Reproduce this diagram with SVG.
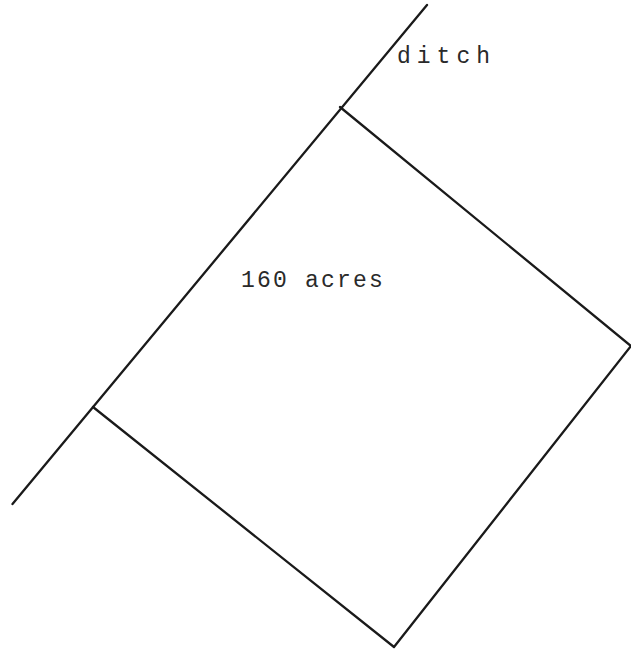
<svg xmlns="http://www.w3.org/2000/svg" width="631" height="653" viewBox="0 0 631 653">
<style>
.ln{stroke:#1a1a1a;stroke-width:2.3;fill:none;stroke-linecap:round;stroke-linejoin:round}
.t{font-family:"Liberation Mono","DejaVu Sans Mono",monospace;font-size:23px;fill:#2a2a2a}
</style>
<rect width="631" height="653" fill="#fff"/>
<g id="connectors">
<line id="ditch-line" class="ln" x1="12.5" y1="504" x2="427" y2="5"/>
</g>
<g id="parcel">
<polyline class="ln" points="340,107 631,346 394,647 93,407"/>
</g>
<g id="ditch-label">
<text class="t" x="397" y="63" letter-spacing="6">ditch</text>
</g>
<g id="acres-label">
<text class="t" x="241" y="287" letter-spacing="2.2">160 acres</text>
</g>
</svg>
